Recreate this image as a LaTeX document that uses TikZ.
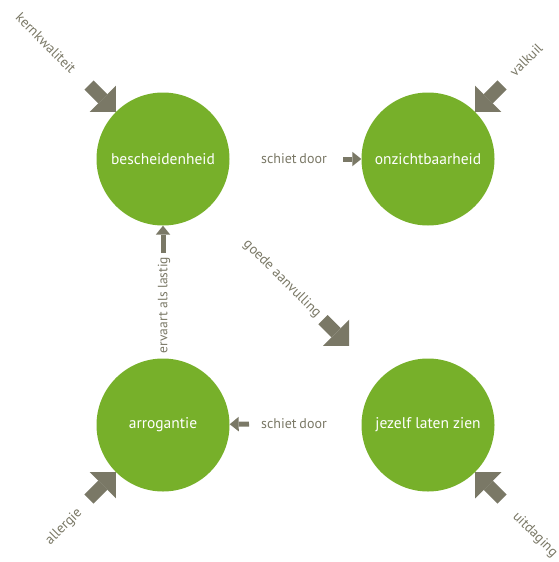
\documentclass[tikz,border=0pt]{standalone}
\usepackage{fontspec}
\setmainfont{PT Sans}
\usetikzlibrary{arrows.meta}
\definecolor{leaf}{RGB}{119,176,42}
\definecolor{olive}{RGB}{122,120,102}
\tikzset{
  quality/.style={circle, fill=leaf, minimum size=133pt, inner sep=0pt,
    text=white, font=\fontsize{15.5}{18}\selectfont},
  relabel/.style={text=olive, inner sep=0pt, font=\fontsize{14}{16}\selectfont},
  bigarrow/.style={draw=olive, line width=13pt,
    -{Triangle[length=18.5pt,width=37pt,line width=0pt]}},
  smallarrow/.style={draw=olive, line width=5pt,
    -{Triangle[length=9pt,width=14.5pt,line width=0pt]}}
}
\begin{document}
\begin{tikzpicture}[x=1pt, y=-1pt]
\useasboundingbox (0,0) rectangle (559,562);

% the four qualities
\node[quality] (besch) at (163,159) {bescheidenheid};
\node[quality] (onz)   at (428,159) {onzichtbaarheid};
\node[quality] (arr)   at (163,425) {arrogantie};
\node[quality] (jz)    at (428,425) {jezelf laten zien};

% outer arrows with their labels
\coordinate (kt) at (89,85);
\coordinate (vt) at (502,85);
\coordinate (at) at (89,499);
\coordinate (ut) at (502,499);
\draw[bigarrow] (kt) -- (besch);
\draw[bigarrow] (vt) -- (onz);
\draw[bigarrow] (at) -- (arr);
\draw[bigarrow] (ut) -- (jz);
\node[relabel, rotate=-45] (lk) at (46,43)   {kernkwaliteit};
\node[relabel, rotate=45]  (lv) at (526,60)  {valkuil};
\node[relabel, rotate=45]  (la) at (64,527)  {allergie};
\node[relabel, rotate=-45] (lu) at (535,535) {uitdaging};

% diagonal relation
\draw[bigarrow, shorten <=160pt, shorten >=45pt] (besch) -- (jz);
\node[relabel, rotate=-45] (lg) at (282,279) {goede aanvulling};

% inner relations
\coordinate (s1) at (343,159);
\coordinate (s2) at (249,424);
\coordinate (s3) at (163,253);
\draw[smallarrow] (s1) -- (onz);
\draw[smallarrow] (s2) -- (arr);
\draw[smallarrow] (s3) -- (besch);
\node[relabel] (ls1) at (294,159) {schiet\hspace{0.2em}door};
\node[relabel] (ls2) at (294,424) {schiet\hspace{0.2em}door};
\node[relabel, rotate=90, font=\fontsize{13.5}{16}\selectfont] (le) at (164,305) {ervaart als lastig};
\end{tikzpicture}
\end{document}
